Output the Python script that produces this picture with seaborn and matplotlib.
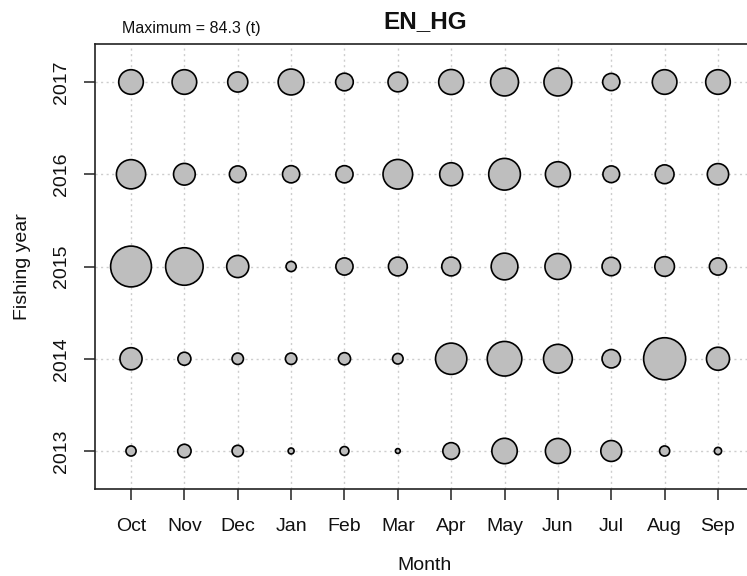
import numpy as np
import pandas as pd
import matplotlib
matplotlib.use("Agg")
import matplotlib.pyplot as plt
import seaborn as sns

months = ["Oct", "Nov", "Dec", "Jan", "Feb", "Mar", "Apr", "May", "Jun", "Jul", "Aug", "Sep"]
years = [2013, 2014, 2015, 2016, 2017]

catch_2013 = [4.9, 8.6, 6.2, 1.7, 3.8, 1.1, 13.3, 30.8, 29.9, 20.9, 4.9, 2.5]
catch_2014 = [23.3, 8.1, 6.2, 6.2, 7.1, 5.3, 46.8, 57.2, 39.6, 16.2, 84.3, 25.3]
catch_2015 = [79.6, 67.2, 23.3, 4.9, 14.1, 16.9, 16.9, 34.1, 32.1, 16.2, 18.4, 14.1]
catch_2016 = [40.8, 22.5, 13.3, 14.1, 14.1, 41.9, 25.3, 48.0, 29.9, 13.3, 16.9, 21.7]
catch_2017 = [28.9, 28.9, 19.3, 32.1, 14.8, 18.4, 29.9, 37.2, 37.2, 14.1, 28.9, 28.9]
max_catch = 84.3

series = [catch_2013, catch_2014, catch_2015, catch_2016, catch_2017]
rows = []
for yr, vals in zip(years, series):
    for m, v in zip(months, vals):
        rows.append({"Month": m, "Fishing year": yr, "catch": v})
df = pd.DataFrame(rows)
df["mi"] = df["Month"].map({m: i for i, m in enumerate(months)})

sns.set_theme(style="ticks")
plt.rcParams["font.family"] = ["Liberation Sans", "DejaVu Sans"]

W, H = 747, 576
fig = plt.figure(figsize=(W / 100, H / 100), dpi=100)
ax = fig.add_axes([95 / W, 1 - 489 / H, (754 - 95) / W, (489 - 44) / H])

smax = (42 * 0.72) ** 2
sns.scatterplot(data=df, x="mi", y="Fishing year", size="catch",
                sizes=(0, smax), size_norm=(0, max_catch),
                color="#bebebe", edgecolor="black", linewidth=1.2,
                legend=False, ax=ax, zorder=3)

ax.set_xlim(-0.675, 11.675)
ax.set_ylim(2012.588, 2017.412)
ax.set_xticks(range(len(months)))
ax.set_xticklabels(months)
ax.set_yticks(years)
ax.set_yticklabels([str(y) for y in years], rotation=90, va="center")

ax.grid(True, linestyle=(0, (1.5, 2.5)), color="#cdcdcd", linewidth=1.0)
ax.set_axisbelow(True)

for side in ["left", "bottom", "top"]:
    ax.spines[side].set_visible(True)
    ax.spines[side].set_color("#222222")
    ax.spines[side].set_linewidth(1.2)
ax.spines["right"].set_visible(False)

ax.tick_params(axis="both", direction="out", length=8, width=1.2, color="#333333",
               labelsize=14, labelcolor="#111111")
ax.tick_params(axis="x", pad=13)
ax.tick_params(axis="y", pad=10)

ax.set_xlabel("Month", fontsize=14, color="#111111")
ax.set_ylabel("Fishing year", fontsize=14, color="#111111")
ax.xaxis.set_label_coords(0.5, -(566 - 489) / (489 - 44))
ax.xaxis.label.set_va("center")
ax.yaxis.set_label_coords(-(95 - 22) / (754 - 95), 0.5)
ax.yaxis.label.set_va("center")

fig.text(425 / W, 1 - 22 / H, "EN_HG", fontsize=17.5, fontweight="bold",
         ha="center", va="center", color="#111111")
fig.text(122 / W, 1 - 28 / H, "Maximum = 84.3 (t)", fontsize=11.5,
         ha="left", va="center", color="#111111")

fig.savefig("out.png", dpi=100)
